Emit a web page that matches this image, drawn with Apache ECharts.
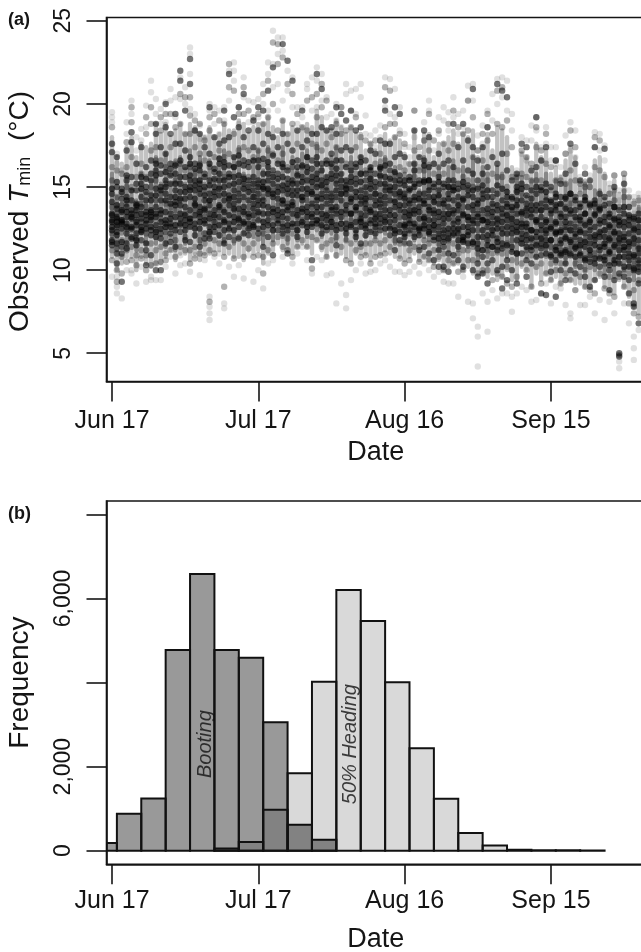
<!DOCTYPE html>
<html><head><meta charset="utf-8">
<style>html,body{margin:0;padding:0;background:#fff;overflow:hidden}#c{width:641px;height:952px}</style>
<script src="https://cdn.jsdelivr.net/npm/echarts@6/dist/echarts.min.js"></script>
</head><body><div id="c"></div>
<script>
// One row or entry per day, starting at Jun 17. Values are minimum temperatures in deg C.
const coreHigh = [15.8,14.4,14.0,15.6,14.8,14.2,15.8,14.6,15.4,16.8,15.2,17.0,15.2,16.6,16.8,15.2,17.2,16.0,16.8,15.2,16.6,15.2,16.8,17.2,15.6,16.8,17.4,15.8,15.2,16.6,17.2,16.0,17.4,15.8,15.4,17.4,15.2,16.8,16.0,17.0,17.2,15.8,17.6,16.2,15.6,16.8,17.4,15.8,15.4,16.8,15.2,16.8,15.0,16.2,15.0,16.6,16.8,15.4,16.2,15.0,15.8,14.8,16.4,14.8,16.8,16.4,14.8,16.2,14.8,16.2,16.6,14.8,16.2,15.0,16.8,14.6,16.2,15.8,14.2,16.2,15.8,14.8,14.0,15.6,15.6,14.4,15.4,15.8,14.8,15.8,14.0,15.4,14.0,15.2,15.4,14.2,13.8,15.2,13.6,14.8,14.8,13.8,13.4,14.8,13.0,14.8,13.2,13.0,13.8];
const coreLow = [12.0,11.2,12.2,11.6,12.6,11.2,12.2,11.6,12.6,11.6,12.4,11.4,12.4,11.2,12.6,11.6,12.6,12.0,11.6,12.8,12.0,12.6,12.0,11.6,12.6,11.6,12.8,12.2,12.6,12.0,13.0,11.6,12.8,11.8,13.0,12.0,11.6,12.8,11.8,13.0,12.0,12.8,12.4,12.0,12.8,12.2,11.8,13.0,11.8,12.8,11.8,12.6,12.0,13.0,12.0,13.0,12.2,12.6,11.6,12.4,11.6,12.4,11.8,12.2,12.0,11.8,12.4,11.2,11.8,11.2,12.4,11.2,11.8,11.4,11.8,10.6,11.4,10.8,11.6,11.0,11.4,10.8,11.2,10.4,11.8,10.8,11.4,10.8,11.4,10.8,11.0,10.4,11.0,10.4,11.2,10.2,11.0,10.0,10.6,10.0,10.8,9.8,10.4,9.6,10.4,10.0,10.2,9.4,10.0];
const haloHigh = [18.0,16.8,16.4,17.4,18.0,16.8,17.6,17.4,17.6,18.8,18.2,18.8,18.0,18.4,18.8,18.2,18.8,18.6,18.2,18.0,18.6,18.0,18.2,18.8,18.4,18.4,19.0,18.8,18.2,18.6,18.8,18.8,19.2,18.6,18.0,19.0,18.2,18.6,18.4,18.6,18.8,18.6,19.6,19.2,18.4,18.4,19.0,18.6,18.2,18.6,18.2,18.2,17.2,17.6,17.2,17.6,18.2,17.8,18.0,17.8,17.0,16.4,18.4,16.8,18.2,18.2,16.8,17.6,17.6,18.0,18.4,17.6,18.2,18.0,18.4,16.8,17.4,18.2,17.2,18.6,18.4,18.0,16.2,15.8,17.0,16.8,16.2,17.6,16.8,17.2,15.8,16.2,15.6,16.6,17.4,16.8,15.4,15.4,15.4,16.6,16.8,15.8,15.0,15.4,14.6,15.6,14.4,14.2,14.4];
const haloLow = [10.8,10.0,10.4,10.8,10.8,10.0,10.8,10.4,10.2,10.4,10.4,10.8,11.2,10.6,11.0,11.0,10.6,11.0,10.6,11.0,11.0,11.2,11.2,11.0,11.0,10.8,10.8,10.6,11.2,11.0,11.2,10.4,11.0,11.2,11.6,11.2,11.2,11.0,11.4,11.6,11.4,11.0,11.8,11.2,10.8,11.2,10.8,11.0,10.8,10.6,11.0,11.0,11.0,10.6,11.0,11.0,11.2,11.0,10.8,10.8,10.6,10.8,11.0,10.6,10.8,10.6,10.4,10.6,10.0,10.2,10.4,10.4,10.0,10.2,9.8,9.8,9.8,9.6,9.8,9.4,9.6,10.0,9.4,9.4,10.2,10.0,9.0,9.8,9.4,9.8,9.4,9.6,9.2,9.6,9.4,9.2,9.2,9.0,9.0,9.4,9.6,9.0,8.8,8.6,9.4,9.0,8.4,7.8,7.4];
const deepTemps = [
[13.3,12.9,14.9,12.4,11.7],[13.9,12.7,13.1,15.3,12.1],[13.0,11.7,12.8,14.7,13.6],[12.6,13.5,14.2,15.7,11.3],[13.2,13.4,12.5,14.8,11.9],
[13.6,13.9,12.9,11.8,15.2],[12.6,14.9,13.4,12.3,15.6],[12.8,13.3,14.7,11.6,15.5],[13.2,14.2,15.8,12.4,13.5],[13.4,14.5,15.7,12.3,16.4],
[13.6,12.5,14.8,16.3,11.9],[14.2,13.0,15.0,15.9,12.6],[13.1,12.6,14.0,15.7,16.1],[12.7,14.4,13.9,16.3,15.2],[15.2,14.3,13.4,12.8,16.6],
[15.6,14.7,13.3,12.7,16.2],[14.8,15.7,13.1,12.9,16.4],[14.3,15.1,13.9,12.5,16.1],[15.4,14.9,13.5,12.9,16.3],[14.5,15.6,13.7,12.8,11.9],
[15.1,13.1,14.2,16.4,12.3],[14.7,15.5,13.3,12.6,16.1],[14.9,13.9,15.8,12.7,16.7],[15.4,14.6,13.5,12.9,16.5],[14.3,15.6,13.3,16.3,12.5],
[15.2,14.4,13.7,16.2,12.9],[14.2,15.7,13.1,16.9,12.6],[14.9,13.5,15.5,12.8,16.3],[14.7,15.4,13.2,12.5,16.5],[14.4,15.2,13.7,12.7,16.6],
[15.0,14.2,13.5,16.2,12.5],[14.9,15.3,13.9,12.9,16.7],[14.9,15.8,13.4,12.7,16.5],[14.6,15.6,13.5,12.4,16.9],[15.5,14.7,13.3,16.4,12.8],
[15.1,14.2,13.5,16.2,12.6],[14.9,15.5,13.6,12.7,16.0],[15.2,14.5,13.9,16.5,12.8],[14.8,15.7,13.3,16.2,12.4],[15.3,14.4,13.7,16.3,12.9],
[14.9,15.9,13.5,12.6,16.8],[15.3,14.6,13.2,16.1,12.8],[15.5,14.4,13.8,16.4,13.0],[15.1,14.3,13.4,16.0,12.7],[14.4,15.3,13.3,12.6,16.4],
[14.2,15.5,13.6,16.4,12.9],[14.8,15.7,13.8,12.4,16.1],[14.6,15.4,13.5,12.8,16.6],[14.9,13.9,15.1,12.5,16.2],[14.3,15.3,13.4,12.7,16.0],
[14.7,13.8,15.5,12.4,16.2],[14.4,15.3,13.1,12.9,16.5],[14.3,15.0,13.7,12.5,15.8],[14.9,13.5,15.5,12.8,16.2],[13.9,14.6,13.1,15.3,12.6],
[14.2,15.7,13.4,12.8,16.1],[14.4,15.2,13.6,12.9,16.3],[14.8,13.3,15.5,12.5,16.4],[14.1,15.0,13.3,12.4,15.9],[14.7,13.9,15.4,12.3,15.7],
[14.3,13.5,15.1,12.7,12.2],[14.0,13.3,14.9,12.8,15.4],[14.4,15.0,13.6,12.8,16.0],[14.3,13.5,15.2,12.5,12.1],[14.2,15.3,13.1,12.7,16.3],
[14.8,13.6,15.4,12.6,12.3],[14.1,13.4,15.0,12.7,12.0],[14.5,13.5,15.3,12.2,11.9],[14.0,13.1,15.2,12.4,11.7],[14.3,13.4,15.0,12.5,11.9],
[14.8,13.6,15.0,12.5,12.2],[13.9,13.1,14.9,12.5,11.8],[14.3,13.3,15.3,12.0,11.7],[14.5,13.2,15.1,12.6,12.1],[13.9,13.0,14.8,12.4,11.7],
[14.0,13.2,14.9,12.0,11.3],[14.3,13.0,15.1,12.4,11.2],[13.7,12.9,14.8,12.1,11.5],[13.5,12.8,14.4,12.1,11.4],[13.9,13.1,15.1,12.5,11.7],
[13.7,12.9,14.9,12.2,11.3],[14.0,13.3,14.7,12.6,11.5],[13.8,13.1,14.3,12.5,11.1],[13.9,12.9,14.7,12.3,11.0],[13.5,12.6,14.9,11.9,11.6],
[13.7,12.8,14.5,12.1,11.4],[13.6,12.4,14.3,11.9,11.2],[13.9,13.0,15.0,12.3,11.5],[13.6,12.7,14.8,11.9,11.3],[13.8,12.9,14.7,12.2,11.5],
[13.6,12.5,14.1,11.8,10.9],[13.9,12.9,14.4,12.3,11.2],[13.2,12.3,14.0,11.6,10.9],[13.7,12.9,14.3,11.9,11.1],[13.6,12.4,14.6,11.7,11.0],
[13.2,12.2,14.2,11.3,10.8],[13.0,12.3,13.8,11.5,10.9],[13.4,12.7,14.2,11.7,10.7],[12.9,12.0,13.9,11.2,10.5],[13.3,12.1,14.0,11.5,10.7],
[13.0,12.3,13.7,11.4,10.7],[12.9,12.0,13.9,11.4,10.6],[12.7,11.9,13.4,11.1,10.3],[13.1,12.3,13.8,11.5,10.6],[12.7,11.9,13.2,11.2,10.4],
[12.9,12.0,13.8,11.4,10.8],[12.7,11.7,13.3,11.0,10.2],[12.5,11.9,13.1,10.9,10.1],[12.3,11.3,13.0,10.6,9.9]
];
const darkTemps = [
[17.6,17.1,14.6,14.1,13.4,13.0,12.6,11.8,11.5],
[16.8,15.0,13.7,13.2,12.9,12.3,11.6,11.0,10.4],
[14.9,14.3,13.5,12.9,12.5,11.4,11.0,9.3],
[17.2,15.4,14.4,13.8,13.2,12.8,12.2,11.6],
[18.3,17.7,15.6,14.2,13.6,13.1,12.6,12.0],
[16.4,14.8,14.0,13.3,12.7,12.2,11.5],
[17.4,15.2,14.4,13.8,13.1,12.4,11.8],
[16.2,15.0,14.2,13.5,13.0,12.5,11.2,10.3],
[16.6,15.4,14.5,13.6,13.0,12.6,12.1,10.9],
[18.8,18.2,16.0,14.9,13.8,13.2,12.7,12.0,10.0],
[17.4,15.8,15.0,14.2,13.4,12.9,12.2,10.0],
[20.0,18.6,17.0,15.4,14.6,13.5,12.8,11.6],
[18.2,16.4,15.2,14.4,13.4,12.8,12.2,11.7],
[19.4,17.6,15.8,14.8,14.1,13.2,12.4,11.4],
[22.0,21.4,17.6,15.6,14.7,13.9,13.1,12.3],
[19.6,17.2,15.0,14.3,13.8,13.0,12.4,11.8],
[22.7,21.2,16.8,15.4,15.0,14.4,13.6,12.6,11.7],
[18.4,16.4,15.4,14.8,14.0,13.3,12.8,12.1],
[18.2,16.0,15.2,14.6,13.8,13.2,12.5,11.4],
[17.4,15.8,15.0,14.2,13.6,13.0,12.2],
[19.8,17.0,15.4,14.6,13.9,13.4,12.6,11.9],
[18.0,15.9,15.0,14.4,13.6,12.9,12.3],
[17.6,16.4,15.4,14.5,13.8,13.2,12.1],
[19.6,17.8,16.2,15.0,14.2,13.0,12.4,11.6],
[21.8,18.0,15.8,15.1,14.5,13.9,12.8,12.0],
[19.2,16.8,15.6,14.8,14.0,13.2,12.4],
[19.8,18.6,16.4,15.3,14.6,13.7,13.0,11.9],
[20.6,18.0,16.6,15.2,14.4,13.8,12.9,12.2],
[18.4,16.2,15.0,14.2,13.4,12.8,12.1],
[19.0,17.4,15.6,14.8,14.0,13.3,12.6],
[19.8,18.4,16.6,15.4,14.6,13.9,13.0,12.2],
[19.6,17.6,15.8,15.0,14.2,13.4,12.6,11.4],
[20.8,18.2,16.2,15.4,14.6,13.8,13.0,12.0],
[22.2,18.0,16.0,15.2,14.4,13.7,12.7,10.9],
[17.4,15.8,15.0,14.3,13.6,13.0,12.4],
[23.6,18.2,16.4,15.6,14.8,14.0,13.2,12.2],
[22.6,17.6,15.2,14.6,13.8,13.1,12.4,11.0],
[21.4,17.2,15.4,14.8,14.1,13.4,12.6],
[18.4,16.6,15.2,14.5,13.6,12.8,12.0],
[19.6,17.4,15.6,14.9,14.2,13.5,12.7],
[17.8,16.2,15.4,14.6,13.8,13.2,12.3],
[18.2,16.6,15.6,14.7,14.0,13.4,12.6,10.6],
[21.8,18.2,16.8,15.8,15.0,14.2,13.5,12.8],
[20.9,18.6,16.4,15.4,14.6,13.8,13.1,12.2],
[18.4,16.6,15.6,14.8,14.0,13.0,12.4],
[18.6,17.0,15.8,14.6,13.8,13.2,12.6],
[19.8,18.2,16.6,15.2,14.4,13.4,12.7,11.5],
[19.4,17.2,15.8,15.0,14.2,13.2,12.5],
[19.0,17.4,15.4,14.6,13.6,12.8,12.2],
[19.6,17.2,15.6,14.9,14.1,13.4,12.6],
[18.4,16.4,15.2,14.4,13.6,12.9,12.0],
[18.6,16.8,15.8,14.8,14.0,13.4,12.6,11.6],
[16.6,15.4,14.6,14.0,13.3,12.7,12.1],
[17.2,16.0,15.2,14.4,13.6,13.0,12.3],
[17.0,15.8,15.0,14.2,13.4,12.8,12.2],
[17.8,16.2,15.2,14.5,13.8,13.1,12.4],
[20.2,19.6,17.6,15.6,14.8,14.0,13.2,12.5],
[17.6,16.0,15.0,14.2,13.6,12.9,12.1],
[19.8,16.8,15.4,14.6,13.8,13.0,12.2,11.2],
[19.4,17.0,15.2,14.4,13.6,12.7,11.8],
[16.8,15.4,14.6,13.9,13.2,12.6,12.0],
[15.6,14.8,14.2,13.6,13.0,12.4,11.6],
[18.4,16.4,15.2,14.2,13.4,12.6,12.0],
[16.8,15.4,14.6,13.8,13.1,12.4,11.2],
[18.4,16.6,15.4,14.6,14.0,13.2,12.5,11.4],
[18.0,16.2,15.4,14.4,13.8,13.0,12.2,11.0],
[16.4,15.2,14.4,13.6,13.0,12.4,11.8,10.6],
[17.0,15.6,14.8,14.0,13.2,12.6,11.2,10.2],
[16.4,15.0,14.2,13.4,12.8,12.0,11.4,10.2],
[16.6,15.4,14.6,13.8,13.1,12.2,11.0,9.9],
[18.8,16.2,15.4,14.2,13.4,12.8,12.1,10.9],
[17.4,15.2,14.4,13.6,12.9,12.2,11.4,10.6],
[18.8,16.6,15.0,14.2,13.4,12.6,11.8,10.2],
[17.8,16.0,14.8,13.8,13.0,12.3,11.6],
[20.9,17.4,15.8,14.4,13.6,12.8,11.6,10.0],
[16.6,15.4,14.2,13.4,12.8,11.6,10.4,9.6],
[17.4,15.8,14.6,13.6,13.0,12.0,10.8,9.8],
[18.6,16.2,14.4,13.4,12.6,11.8,10.4,9.2],
[16.8,14.8,14.0,13.2,12.4,11.4,10.6],
[21.2,16.4,14.6,13.6,12.8,11.9,11.2,10.0],
[20.8,17.0,14.2,13.4,12.5,11.6,10.2,8.9],
[20.4,16.0,14.4,13.8,13.0,12.2,10.6,9.4],
[15.4,14.4,13.6,12.8,12.2,11.4,10.0],
[15.8,15.0,14.2,13.4,12.6,11.8,9.2],
[17.6,15.2,14.2,13.4,12.8,12.2,11.0],
[17.4,15.0,14.0,13.3,12.6,11.8,10.6,9.6],
[16.0,14.8,13.9,13.2,12.4,11.4,10.4],
[19.2,16.2,14.6,13.6,12.9,12.0,10.8],
[16.6,15.0,14.0,13.2,12.4,11.6,10.9,8.6],
[17.4,15.2,14.2,13.0,12.4,11.8,11.0,8.5],
[15.0,14.2,13.4,12.6,11.8,10.8,9.9],
[16.6,14.6,13.6,12.8,12.2,11.4,10.6,8.4],
[15.2,14.4,13.4,12.4,11.8,11.0,10.0],
[15.8,14.4,13.2,12.6,12.0,11.2,10.4,9.4],
[17.6,14.6,13.4,12.8,11.8,10.9,10.0],
[16.4,14.4,13.6,12.6,12.0,11.4,9.8],
[15.4,14.0,13.2,12.4,11.8,11.0,10.2],
[15.8,14.4,13.4,12.2,11.4,10.6,9.6],
[15.4,14.0,13.0,12.4,11.6,10.9,9.0],
[17.4,14.2,13.4,12.6,11.8,10.4,9.4],
[14.6,13.6,12.8,12.0,11.2,10.2],
[17.3,14.4,13.2,12.4,11.6,10.8,9.6],
[14.0,13.2,12.6,11.8,11.0,10.0,8.8],
[15.0,13.8,13.0,12.2,11.4,10.4,9.4],
[13.6,12.9,12.2,11.6,10.8,9.8,5.0,4.8],
[15.2,13.4,12.6,11.8,11.2,10.2,9.6],
[13.8,13.0,12.2,11.4,10.6,9.4,8.6],
[13.2,12.4,11.6,10.8,10.0,8.0,7.8],
[13.4,12.6,11.8,11.0,10.2,9.2,6.8]
];
const midTemps = [
[18.6,16.2,15.4,13.8,12.2,11.2,10.6],
[16.0,14.4,13.4,12.6,11.3,10.0,9.3],
[15.8,14.6,13.9,13.0,11.8,10.8,9.8],
[17.7,16.2,15.0,14.0,12.5,11.2,10.5],
[19.8,18.9,16.8,15.0,12.4,11.4,10.6],
[15.6,13.8,13.0,11.9,10.9,10.3],
[16.4,15.8,14.0,12.9,11.2,10.7],
[19.2,18.2,15.6,13.8,12.2,10.9,10.0],
[19.8,18.8,17.2,15.0,13.3,11.6,10.3],
[17.4,16.6,15.4,14.2,12.4,11.2,10.4],
[19.2,18.4,16.6,14.6,13.1,11.4,10.5],
[19.4,16.2,15.2,14.0,12.3,11.0,10.6],
[19.4,17.4,15.8,13.8,12.0,11.2],
[18.6,16.4,15.4,13.6,11.8,10.8],
[20.6,18.8,16.4,14.2,12.7,11.4],
[20.4,18.2,16.0,13.4,12.0,11.2],
[20.4,19.3,18.2,16.2,13.1,11.2,10.4],
[19.0,17.4,15.8,13.6,11.4,10.7],
[18.8,17.0,16.4,13.4,11.8,11.0],
[17.8,16.6,14.8,13.2,11.6,10.9],
[19.2,18.4,16.2,14.2,12.2,11.2,8.1],
[19.4,16.8,15.4,13.2,11.8,11.0],
[19.0,17.2,15.0,13.6,11.6],
[18.8,16.8,15.6,13.6,11.8,10.8,9.0],
[22.4,21.0,17.0,14.2,12.4,11.4],
[20.8,18.2,16.2,13.6,11.8,10.7],
[19.4,17.2,14.9,13.4,12.0],
[21.0,19.4,17.4,15.6,13.4,11.6,10.8],
[19.6,17.2,15.6,13.8,12.4,11.3],
[19.2,16.8,14.4,12.9,11.6,10.8],
[19.4,17.2,15.2,13.4,11.9,10.9],
[20.6,18.8,16.4,14.4,12.2,10.8,9.8],
[21.4,19.2,17.2,14.8,12.4,11.2],
[23.7,20.0,17.0,14.8,13.2,11.6],
[23.6,22.4,18.4,16.6,13.9,12.0],
[22.8,19.0,17.0,14.2,12.8,11.4],
[21.2,18.2,16.2,14.0,11.9,11.2],
[20.6,18.8,16.2,13.8,12.2,10.8],
[19.4,17.6,15.8,13.2,12.4,11.4],
[18.6,16.2,14.4,13.0,11.8],
[20.2,18.4,16.8,14.2,12.8,11.4],
[20.4,17.6,15.0,13.8,12.0,10.1],
[20.6,19.2,17.4,15.2,13.0,11.8],
[21.2,19.8,17.2,15.0,12.6,11.4],
[20.2,17.6,15.0,13.4,11.6,10.8],
[18.0,16.2,14.4,12.9,11.8],
[18.8,17.4,15.4,13.6,12.0,10.9],
[19.8,18.2,16.2,14.6,12.8,11.4],
[18.4,16.4,14.8,13.4,11.8,10.6],
[18.6,16.4,14.4,13.0,11.6,10.4],
[19.2,17.4,15.8,13.8,12.2,11.2],
[18.0,15.8,14.2,13.0,11.4,10.8],
[17.8,16.0,14.2,12.8,11.6,10.9],
[17.6,15.6,13.8,12.4,11.6,10.4],
[17.8,16.4,14.6,13.2,11.8,10.8],
[17.0,15.6,14.0,12.6,11.6,10.9],
[21.0,18.6,16.6,15.0,13.0,11.8,11.0],
[20.8,18.8,15.6,14.6,12.6,11.4],
[18.8,18.0,15.8,14.2,12.6,11.8],
[18.2,16.2,14.6,13.2,11.6,10.7],
[17.6,16.0,14.4,12.8,11.6,10.4],
[16.4,15.4,13.4,12.2,11.2,10.6],
[19.6,17.2,15.6,13.8,12.2,11.4],
[17.4,16.0,14.2,12.6,11.4,10.5],
[17.8,16.0,14.0,12.9,11.8,10.8],
[19.4,17.2,15.0,13.4,11.6,10.6],
[17.8,15.8,14.2,12.7,11.2,10.2],
[18.4,16.2,14.4,12.9,11.6,10.8],
[17.6,15.8,13.8,12.2,11.0,10.0],
[18.8,17.2,15.0,13.4,11.8,10.6],
[19.6,17.6,14.8,13.0,11.6,10.4],
[18.6,16.0,14.0,12.4,11.0,9.9],
[18.2,15.6,13.8,12.0,11.2,10.0],
[20.2,18.4,15.4,13.2,11.2,10.6],
[19.2,16.8,15.0,13.2,11.4,10.6],
[17.2,15.0,13.8,12.4,11.0,9.8],
[18.2,16.6,14.8,13.2,11.2,10.0],
[19.4,17.8,15.4,13.0,11.2,10.0],
[18.2,15.8,13.8,12.4,11.0,9.4],
[20.8,18.8,15.6,13.0,11.4,9.8],
[21.0,18.6,15.6,13.2,11.0,9.6],
[19.0,17.0,15.0,13.4,11.6,10.2,9.2],
[17.4,15.6,13.2,11.8,10.6,9.0],
[15.6,14.8,13.8,12.4,11.0,9.6],
[17.2,15.8,14.6,13.0,11.6,10.4],
[16.8,15.6,13.6,12.4,11.2,10.0],
[16.4,15.4,13.4,11.8,10.9,9.0],
[18.6,17.4,15.4,13.0,11.6,10.2],
[17.2,15.4,13.6,12.0,10.4,9.2],
[18.2,16.4,14.4,12.6,11.4,9.8],
[16.2,14.8,13.0,11.4,10.4,9.4],
[16.6,15.4,13.8,12.2,11.2,10.0],
[15.4,14.0,12.8,11.2,10.4,9.2],
[17.0,15.2,13.8,12.4,10.8,9.8],
[18.4,16.0,14.0,12.4,11.4,9.4],
[17.4,15.4,13.0,11.6,10.4,8.8],
[15.2,14.6,12.8,11.4,10.6,9.6],
[15.0,14.2,12.8,11.8,10.0,9.0],
[15.0,13.8,12.6,11.2,10.2,8.8],
[18.0,16.2,13.8,12.0,11.0,8.6],
[17.8,16.0,13.8,12.2,10.8,9.8],
[15.6,14.2,12.4,11.6,10.4,8.9],
[14.6,13.6,12.2,11.2,9.6,8.6],
[15.7,14.2,12.6,11.8,10.8,8.4],
[13.8,13.0,11.8,10.8,9.6,4.9],
[15.8,14.4,12.2,11.4,10.0,9.0],
[14.4,13.2,11.6,10.8,9.8,8.0],
[14.0,12.8,12.0,10.4,8.8,7.4],
[14.2,13.0,11.4,10.4,9.4,7.2]
];
const lightTemps = [
[19.5,19.2,18.9,9.6],
[17.0,16.4,9.6,9.0,8.6],
[16.0,8.3],
[18.9,18.2,10.0],
[20.2,19.4,10.0,9.8],
[18.0,17.2,9.2],
[18.5,17.8,10.2],
[19.9,18.6,9.3],
[21.4,20.7,9.6,9.4],
[20.3,19.4,9.4],
[19.7,18.8,9.4],
[20.1,18.9,10.2],
[20.9,20.2,10.8],
[20.4,19.2,9.8],
[21.6,20.3,10.3,10.9],
[21.0,20.0,10.4],
[23.4,23.0,21.8,19.7,9.9],
[19.4,18.4,10.9],
[18.7,17.9,9.7],
[18.0,17.0,10.6],
[20.0,19.6,8.4,7.8,7.4,7.0],
[19.8,18.8,10.8],
[19.6,18.2,11.0,10.4],
[19.8,19.0,8.0,7.7],
[22.0,20.2,10.2],
[22.5,22.0,21.4,9.6],
[19.8,18.8,10.3],
[21.6,20.4,9.5],
[20.2,18.9,10.9],
[20.1,18.9,9.3],
[20.3,19.2,10.0],
[21.2,20.0,8.9],
[22.5,21.8,19.6,10.4],
[24.4,22.4,21.0,10.6],
[24.0,23.0,21.2,19.6],
[24.0,23.2,20.2,10.8],
[22.0,20.8,11.2],
[21.6,19.8,10.4],
[19.8,18.8,11.0],
[19.8,19.2,11.4],
[21.2,20.9,10.6],
[21.6,19.6,9.8],
[22.2,21.4,19.8,10.8],
[21.8,20.2,10.6],
[20.4,19.2,9.7],
[19.4,18.4,9.8],
[20.0,19.0,8.0],
[19.8,18.6,9.2],
[21.2,20.6,8.5,7.7],
[20.8,19.6,9.4],
[20.9,19.4,10.0],
[21.2,20.4,10.4],
[19.3,18.2,9.8],
[18.1,17.2,9.9],
[18.4,17.4,10.0],
[18.7,18.0,10.4],
[21.6,19.8,10.6],
[21.5,19.4,10.2],
[20.9,19.2,9.9],
[19.8,18.4,9.9],
[18.2,17.4,9.7],
[17.4,16.8,9.9],
[19.6,18.0,10.2],
[17.0,16.2,9.8],
[18.9,17.8,10.4],
[20.2,19.6,10.0],
[17.2,16.4,9.6],
[19.2,18.2,9.9],
[19.8,19.0,9.3],
[19.5,18.4,9.2],
[20.4,19.2,9.2],
[19.4,18.2,8.4],
[19.6,18.6,9.6],
[21.1,20.2,8.1],
[21.2,20.2,8.0,7.1],
[18.1,17.2,6.6,6.0,4.2],
[18.7,17.6,8.6],
[19.6,18.6,6.3,8.1],
[20.6,19.0,8.8],
[21.5,20.0,8.3],
[21.6,20.4,8.6],
[21.4,19.6,8.6],
[19.4,18.4,7.5,8.4],
[16.0,15.2,8.6],
[18.0,17.0,9.0],
[17.8,16.6,8.8],
[18.7,17.8,8.1],
[19.2,18.4,8.2],
[17.4,16.6,8.6],
[18.6,17.6,9.2],
[17.4,16.6,8.0],
[17.4,16.4,9.0],
[16.2,15.6,8.9],
[18.1,17.0,7.9],
[18.9,17.2,7.1,7.4],
[18.4,16.8,8.8],
[15.6,14.9,7.9],
[16.2,15.2,7.9],
[15.7,15.0,8.4],
[18.3,17.4,7.4],
[18.2,17.2,8.2],
[17.5,16.6,7.0],
[15.2,14.6,8.1],
[15.7,14.8,7.4],
[14.8,14.2,4.5,4.1],
[15.8,14.8,8.0],
[14.8,13.8,6.8],
[14.4,13.4,6.0,5.3,4.6],
[14.6,13.6,6.4]
];
const xTicks = [0, 30, 60, 90];
const xTickLabels = ['Jun 17', 'Jul 17', 'Aug 16', 'Sep 15'];
const tempTicks = [5, 10, 15, 20, 25];
const freqTicks = [0, 2000, 4000, 6000, 8000];
const freqLabelled = [0, 2000, 6000];
const binStarts = [-4,1,6,11,16,21,26,31,36,41,46,51,56,61,66,71,76,81,86,91,96];
const binDays = 5;
const bootingFreq = [183,879,1242,4774,6580,4774,4592,3057,617,261,null,null,null,null,null,null,null,null,null,null,null];
const headingFreq = [null,null,null,null,null,55,207,974,1845,4021,6200,5463,4007,2439,1235,420,126,24,12,10,3];

const toPoints = rows => rows.flatMap((r, d) => r.map(t => [d, t]));
const FONT = '"Liberation Sans", Arial, sans-serif';
const INK = '#151515';

const xAxisBase = (gi, margin, gap) => ({
  type: 'value', gridIndex: gi, min: -1.13, max: 109.29,
  name: 'Date', nameLocation: 'middle', nameGap: gap,
  nameTextStyle: {fontFamily: FONT, fontSize: 27, color: INK},
  axisLine: {show: true, onZero: false, lineStyle: {color: INK, width: 1.6}},
  axisTick: {show: true, length: 20, customValues: xTicks, lineStyle: {color: INK, width: 1.6}},
  axisLabel: {show: true, customValues: xTicks, margin, fontFamily: FONT, fontSize: 25, color: INK,
    hideOverlap: false, showMinLabel: true, showMaxLabel: true,
    formatter: v => xTickLabels[xTicks.indexOf(v)]},
  splitLine: {show: false}
});
const yAxisBase = (gi, min, max, ticks, labelled, fmt, name, nameOpts) => ({
  type: 'value', gridIndex: gi, min, max,
  name, nameLocation: 'middle', nameGap: nameOpts.gap, nameRotate: 90,
  nameTextStyle: nameOpts.style,
  axisLine: {show: true, onZero: false, lineStyle: {color: INK, width: 1.6}},
  axisTick: {show: true, length: 20, customValues: ticks, lineStyle: {color: INK, width: 1.6}},
  axisLabel: {show: true, customValues: labelled, rotate: 90, margin: 31, fontFamily: FONT, fontSize: 23, color: INK,
    hideOverlap: false, formatter: fmt},
  splitLine: {show: false}
});
const dots = (name, rows, alpha) => ({
  name, type: 'scatter', xAxisIndex: 0, yAxisIndex: 0, symbolSize: 6.4, silent: true, animation: false,
  itemStyle: {color: '#000', opacity: alpha, borderWidth: 0}, data: toPoints(rows)
});
const band = (name, lows, highs, alpha) => ({
  name, type: 'custom', xAxisIndex: 0, yAxisIndex: 0, silent: true, animation: false, clip: true,
  data: lows.map((lo, d) => [d, lo, highs[d]]),
  renderItem: (params, api) => {
    const a = api.coord([api.value(0), api.value(1)]);
    const b = api.coord([api.value(0), api.value(2)]);
    return {type: 'line', shape: {x1: a[0], y1: a[1], x2: b[0], y2: b[1]},
      style: {stroke: '#000', opacity: alpha, lineWidth: 4.4, lineCap: 'round'}};
  }
});
const bars = (name, vals, alpha) => ({
  name, type: 'custom', xAxisIndex: 1, yAxisIndex: 1, silent: true, animation: false, clip: true,
  encode: {x: [0, 1], y: 2},
  data: binStarts.map((s, i) => [s, s + binDays, vals[i]]).filter(r => r[2] !== null),
  renderItem: (params, api) => {
    const a = api.coord([api.value(0), 0]);
    const b = api.coord([api.value(1), api.value(2)]);
    return {type: 'rect', shape: {x: a[0], y: b[1], width: b[0] - a[0], height: a[1] - b[1]},
      style: {fill: `rgba(0,0,0,${alpha})`, stroke: '#111', lineWidth: 2}};
  }
});
const note = (text, x, y) => ({
  type: 'scatter', xAxisIndex: 1, yAxisIndex: 1, symbolSize: 0, silent: true, animation: false, z: 5,
  data: [[x, y]],
  label: {show: true, position: 'inside', rotate: 90, formatter: text, fontFamily: FONT, fontStyle: 'italic', fontSize: 20, color: '#111'}
});

const chart = echarts.init(document.getElementById('c'), null, {renderer: 'canvas'});
chart.setOption({
  backgroundColor: '#fff',
  animation: false,
  grid: [
    {outerBoundsMode: 'none', left: 106.5, top: 17.5, width: 538.5, height: 364, show: true, borderColor: INK, borderWidth: 1.6, backgroundColor: 'transparent'},
    {outerBoundsMode: 'none', left: 106.5, top: 501, width: 538.5, height: 363.3, show: true, borderColor: INK, borderWidth: 1.6, backgroundColor: 'transparent'}
  ],
  xAxis: [xAxisBase(0, 27, 58), xAxisBase(1, 24, 62)],
  yAxis: [
    yAxisBase(0, 3.3, 25.2, tempTicks, tempTicks, v => String(v), '{t|Observed }{i|T}{s|min}{t|  (°C)}', {
      gap: 72,
      style: {padding: [0, 24, 0, 0], fontFamily: FONT, fontSize: 28, color: INK, rich: {
        t: {fontFamily: FONT, fontSize: 28, color: INK},
        i: {fontFamily: FONT, fontSize: 28, fontStyle: 'italic', color: INK},
        s: {fontFamily: FONT, fontSize: 18, color: INK, verticalAlign: 'bottom', lineHeight: 22}
      }}
    }),
    yAxisBase(1, -323, 8317, freqTicks, freqLabelled, v => v === 0 ? '0' : v.toLocaleString('en-US'), 'Frequency', {
      gap: 72, style: {fontFamily: FONT, fontSize: 28, color: INK}
    })
  ],
  graphic: [
    {type: 'text', left: 8, top: 11, style: {text: '(a)', font: 'bold 18px ' + FONT, fill: INK}},
    {type: 'text', left: 8, top: 505, style: {text: '(b)', font: 'bold 18px ' + FONT, fill: INK}}
  ],
  series: [
    band('spread', haloLow, haloHigh, 0.24),
    band('core', coreLow, coreHigh, 0.3),
    dots('light', lightTemps, 0.12),
    dots('mid', midTemps, 0.3),
    dots('dark', darkTemps, 0.55),
    dots('deep', deepTemps, 0.6),
    bars('Booting', bootingFreq, 0.4),
    bars('50% Heading', headingFreq, 0.15),
    note('Booting', 19.1, 2535),
    note('50% Heading', 48.8, 2535)
  ]
});
</script></body></html>
